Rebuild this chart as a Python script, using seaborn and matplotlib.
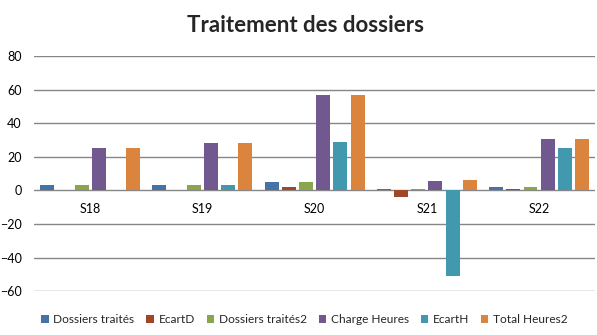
import matplotlib
matplotlib.use("Agg")
import matplotlib.pyplot as plt
import seaborn as sns
import pandas as pd

categories = ["S18", "S19", "S20", "S21", "S22"]
series_names = ["Dossiers traités", "EcartD", "Dossiers traités2", "Charge Heures", "EcartH", "Total Heures2"]
dossiers = [3, 3, 5, 1, 2]
ecart_d = [0, 0, 2, -4, 1]
dossiers2 = [3, 3, 5, 1, 2]
charge = [25, 28, 57, 5.5, 30.5]
ecart_h = [0, 3, 29, -51, 25]
total_h = [25, 28, 57, 6, 30.5]
colors = ["#4572A7", "#A0472A", "#89A54E", "#71588F", "#4198AF", "#DB843D"]

series = [dossiers, ecart_d, dossiers2, charge, ecart_h, total_h]
rows = []
for name, vals in zip(series_names, series):
    for c, v in zip(categories, vals):
        rows.append({"Semaine": c, "Série": name, "Valeur": v})
df = pd.DataFrame(rows)

sns.set_style("white")
plt.rcParams['font.family'] = ['Lato', 'DejaVu Sans']

fig = plt.figure(figsize=(5.97, 3.35), dpi=100)
ax = fig.add_axes([0.057, 0.131, 0.940, 0.702])

sns.barplot(data=df, x="Semaine", y="Valeur", hue="Série", hue_order=series_names,
            order=categories, palette=colors, width=0.92, gap=0.19,
            saturation=1, ax=ax, legend=True, errorbar=None, linewidth=0)

ax.set_ylim(-60, 80)
ax.set_yticks(range(-60, 81, 20))
ax.set_xlim(-0.5, 4.5)
ax.yaxis.grid(True, color="#868686", linewidth=1)
ax.set_axisbelow(True)
for s in ax.spines.values():
    s.set_visible(False)
ax.spines['bottom'].set_position(('data', 0))
ax.tick_params(axis='x', length=0, pad=9, labelsize=9, colors="#000000")
ax.tick_params(axis='y', length=0, pad=9, labelsize=9, colors="#000000")
ax.set_xlabel("")
ax.set_ylabel("")

fig.text(0.511, 0.925, "Traitement des dossiers", ha="center", va="center",
         fontsize=16, fontweight="bold")

handles, labels = ax.get_legend_handles_labels()
ax.legend(handles, labels, loc="center", bbox_to_anchor=(0.51, 0.045),
          bbox_transform=fig.transFigure, ncol=6, frameon=False,
          fontsize=8.6, handlelength=0.6, handleheight=0.6,
          handletextpad=0.4, columnspacing=1.0)

fig.savefig("out.png", dpi=100)
